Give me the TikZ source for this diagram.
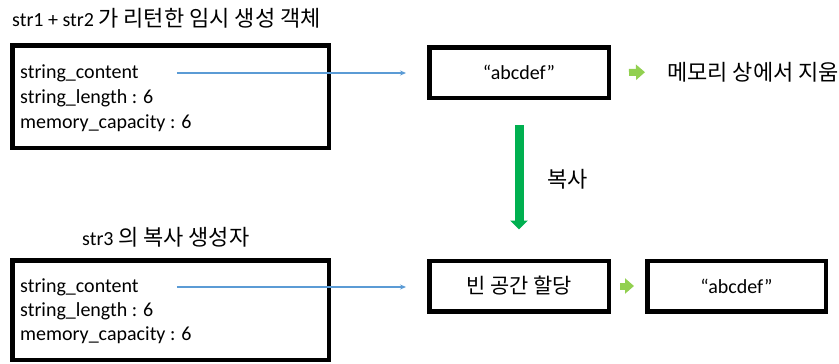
\documentclass[tikz,border=0pt]{standalone}
\usepackage{fontspec}
\setmainfont{Carlito}
\newfontfamily\kr[Scale=1.1]{Noto Sans CJK KR}
\usepackage{tikz}
\usetikzlibrary{positioning,arrows.meta,calc}
\definecolor{ptrblue}{RGB}{91,155,213}
\definecolor{copygreen}{RGB}{0,176,80}
\definecolor{stepgreen}{RGB}{146,208,80}
\tikzset{
  obj/.style={draw=black, line width=4.5pt, inner sep=0pt,
              font=\fontsize{20}{24}\selectfont},
  strobj/.style={obj, minimum width=316.5pt, minimum height=102.5pt},
  memobj/.style={obj, minimum width=179.5pt, minimum height=50.5pt},
  field/.style={anchor=west, inner sep=0pt, font=\fontsize{20}{24}\selectfont},
  lbl/.style={anchor=west, inner sep=0pt, text=black, font=\fontsize{20}{24}\selectfont},
  ptr/.style={-{Stealth[length=6pt,width=5pt]}, line width=1.1pt, ptrblue},
  gostep/.style={-{Triangle[length=9pt,width=15pt]}, line width=7pt, stepgreen},
  copyarrow/.style={-{Triangle[length=9pt,width=17pt]}, line width=9pt, copygreen}
}

\begin{document}
\begin{tikzpicture}[x=1pt, y=-1pt]
        \useasboundingbox (0,0) rectangle (839,364);
        % temporary object of str1 + str2
        \node[lbl] (t1) at (12,18) {str1 + str2 \kr 가 리턴한 임시 생성 객체};
        \node[strobj] (o1) at (170.5,96.5) {};
        \node[field] (c1) at (20,73) {string\_content};
        \node[field] (l1) at (20,98) {string\_length : 6};
        \node[field] (m1) at (20,123) {memory\_capacity : 6};
        \node[memobj] (s1) at (519,72.5) {“abcdef”};
        \node[lbl] (del) at (667,72) {\kr 메모리 상에서 지움};
        % copy constructor of str3
        \node[lbl] (t2) at (82,237) {str3 \kr 의 복사 생성자};
        \node[strobj, minimum height=99.5pt] (o2) at (170.5,310) {};
        \node[field] (c2) at (20,287) {string\_content};
        \node[field] (l2) at (20,311) {string\_length : 6};
        \node[field] (m2) at (20,335) {memory\_capacity : 6};
        \node[memobj] (alloc) at (519,286) {\kr\fontsize{19}{22}\selectfont 빈 공간 할당};
        \node[memobj, minimum width=178.5pt] (s2) at (736.5,286) {“abcdef”};
        \draw[ptr, shorten <=38pt, shorten >=21pt] (c1.east) -- (c1.east -| s1.west);
        \draw[ptr, shorten <=38pt, shorten >=21pt] (c2.east) -- (c2.east -| alloc.west);
        \draw[gostep, shorten <=18pt, shorten >=22pt] (s1.east) -- (del.west);
        \draw[gostep, shorten <=9pt, shorten >=11pt] (alloc.east) -- (s2.west);
        \draw[copyarrow, shorten <=25pt, shorten >=29pt] (s1.south) -- (s1.south |- alloc.north)
          node[midway, lbl, xshift=24pt] {\kr 복사};
      \end{tikzpicture}
\end{document}
